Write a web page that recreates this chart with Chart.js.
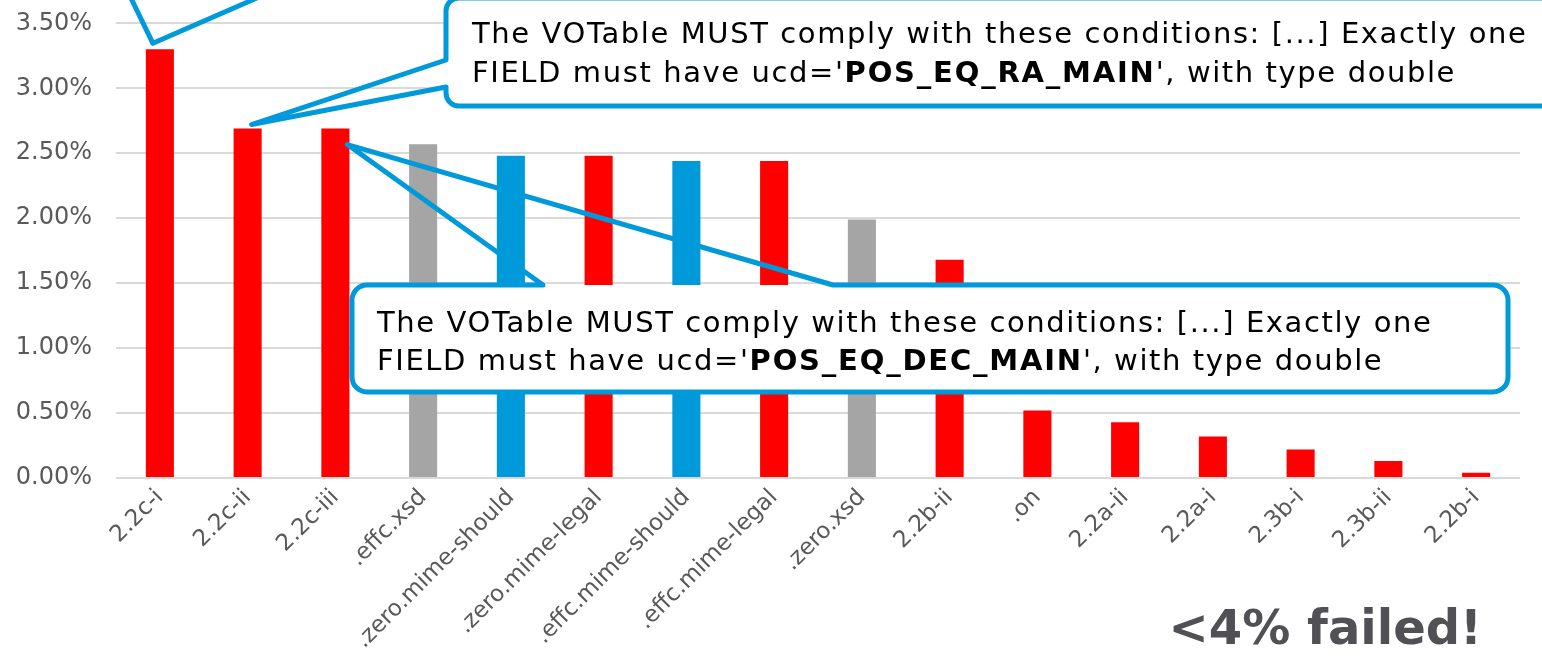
<!DOCTYPE html>
<html>
<head>
<meta charset="utf-8">
<script src="https://cdn.jsdelivr.net/npm/chart.js@4.4.1/dist/chart.umd.min.js"></script>
<style>
  html, body { margin: 0; padding: 0; background: #fff; overflow: hidden; }
  body { width: 1542px; height: 669px; position: relative; }
  #wrap { position: absolute; left: 0; top: -80px; width: 1542px; height: 749px; }
  .note { position: absolute; font-family: "DejaVu Sans", sans-serif; color: #000; white-space: nowrap;
          font-size: 29px; letter-spacing: 1.6px; }
  .note b { font-weight: bold; letter-spacing: 1.8px; }
  #verdict { position: absolute; right: 60px; top: 603px; font-family: "DejaVu Sans", sans-serif;
             font-weight: bold; font-size: 48px; line-height: 48px; color: #505055; white-space: nowrap; }
</style>
</head>
<body>
<div id="wrap"><canvas id="chart"></canvas></div>
<div class="note" id="noteRA" style="left:472px; top:14px; line-height:39px;">
  The VOTable MUST comply with these conditions: [...] Exactly one<br>FIELD must have ucd='<b>POS_EQ_RA_MAIN</b>', with type double
</div>
<div class="note" id="noteDEC" style="left:377px; top:303px; line-height:38px;">
  The VOTable MUST comply with these conditions: [...] Exactly one<br>FIELD must have ucd='<b>POS_EQ_DEC_MAIN</b>', with type double
</div>
<div id="verdict">&lt;4% failed!</div>
<script>
// Données (taux d'échec en %)
const categories = ['2.2c-i', '2.2c-ii', '2.2c-iii', '.effc.xsd', '.zero.mime-should', '.zero.mime-legal',
    '.effc.mime-should', '.effc.mime-legal', '.zero.xsd', '2.2b-ii', '.on', '2.2a-ii', '2.2a-i',
    '2.3b-i', '2.3b-ii', '2.2b-i'];
const failRates = [3.30, 2.69, 2.69, 2.57, 2.48, 2.48, 2.44, 2.44, 1.99, 1.68, 0.52, 0.43, 0.32, 0.22, 0.13, 0.04];
const barColors = ['#FF0000', '#FF0000', '#FF0000', '#A5A5A5', '#009ADA', '#FF0000', '#009ADA', '#FF0000',
    '#A5A5A5', '#FF0000', '#FF0000', '#FF0000', '#FF0000', '#FF0000', '#FF0000', '#FF0000'];
const yMax = 4;
const yStep = 0.5;

const OFFSET = 80; // le canvas commence 80px au-dessus de la page
const BLUE = '#0099DA';

// Bulles : boîte en coordonnées page, côté de la queue, points d'attache, et barre visée
const callouts = [
    { box: { l: -60, t: -200, r: 420, b: -6, rad: 14 }, edge: 2, pa: [266, -6], pb: [129, -6], bar: 0, dx: -7, dy: -6 },
    { box: { l: 446, t: -2, r: 1590, b: 106, rad: 13 }, edge: 3, pa: [446, 87], pb: [446, 60], bar: 1, dx: 4, dy: -4 },
    { box: { l: 352, t: 285, r: 1508, b: 392, rad: 15 }, edge: 0, pa: [543, 285], pb: [833, 285], bar: 2, dx: 12, dy: 16 }
];

const calloutPlugin = {
    id: 'callouts',
    afterDraw(chart) {
        const ctx = chart.ctx;
        const meta = chart.getDatasetMeta(0);
        ctx.save();
        ctx.translate(0, OFFSET);
        callouts.forEach(c => {
            const b = c.box;
            const corners = [[b.l, b.t], [b.r, b.t], [b.r, b.b], [b.l, b.b]];
            const el = meta.data[c.bar];
            const tip = [el.x + c.dx, el.y - OFFSET + c.dy];

            // fond blanc de la boîte (la queue reste transparente)
            ctx.beginPath();
            ctx.roundRect(b.l, b.t, b.r - b.l, b.b - b.t, b.rad);
            ctx.fillStyle = '#fff';
            ctx.fill();

            // contour + queue, sans le segment entre les points d'attache
            ctx.beginPath();
            ctx.moveTo(c.pb[0], c.pb[1]);
            for (let k = 1; k <= 4; k++) {
                const cur = corners[(c.edge + k) % 4];
                const nxt = corners[(c.edge + k + 1) % 4];
                ctx.arcTo(cur[0], cur[1], nxt[0], nxt[1], b.rad);
            }
            ctx.lineTo(c.pa[0], c.pa[1]);
            ctx.lineTo(tip[0], tip[1]);
            ctx.closePath();
            ctx.strokeStyle = BLUE;
            ctx.lineWidth = 5;
            ctx.lineJoin = 'round';
            ctx.stroke();
        });
        ctx.restore();
    }
};

new Chart(document.getElementById('chart'), {
    type: 'bar',
    data: {
        labels: categories,
        datasets: [{
            data: failRates,
            backgroundColor: barColors,
            borderWidth: 0,
            barPercentage: 0.32,
            categoryPercentage: 1
        }]
    },
    options: {
        responsive: true,
        maintainAspectRatio: false,
        animation: false,
        layout: { padding: { top: 36, right: 22, left: 0, bottom: 0 } },
        scales: {
            x: {
                grid: { display: false, drawTicks: false },
                border: { display: false },
                ticks: {
                    color: '#595959',
                    font: { family: 'DejaVu Sans', size: 23 },
                    maxRotation: 45,
                    minRotation: 45,
                    autoSkip: false,
                    padding: 6
                },
                afterFit: s => { s.height = 191; }
            },
            y: {
                min: 0,
                max: yMax,
                grid: { color: '#D9D9D9', lineWidth: 2, drawTicks: false },
                border: { display: false },
                ticks: {
                    stepSize: yStep,
                    color: '#595959',
                    font: { family: 'DejaVu Sans', size: 24 },
                    padding: 24,
                    callback: v => v.toFixed(2) + '%'
                },
                afterFit: s => { s.width = 116; }
            }
        },
        plugins: {
            legend: { display: false },
            tooltip: { enabled: false }
        }
    },
    plugins: [calloutPlugin]
});
</script>
</body>
</html>
